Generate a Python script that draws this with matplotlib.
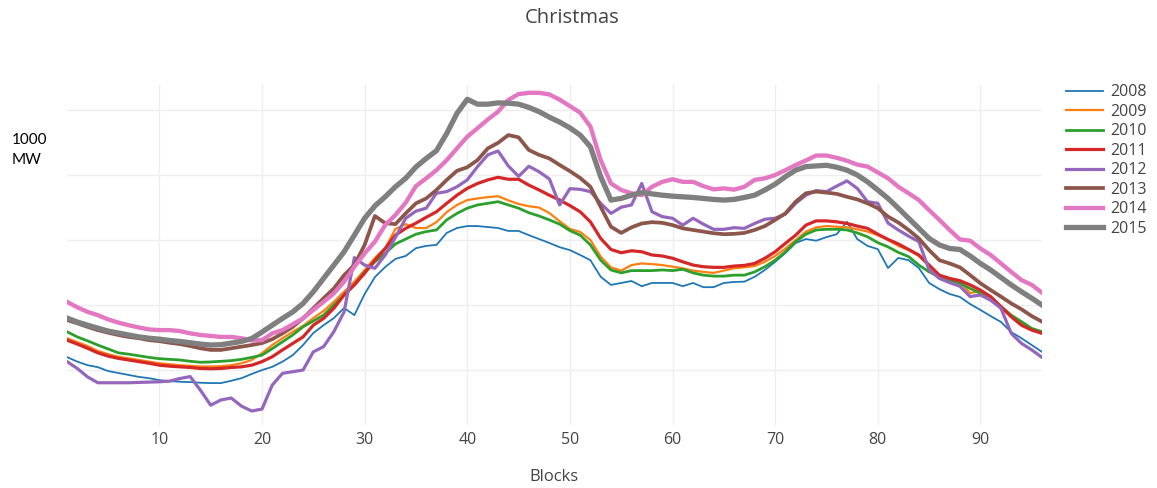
import numpy as np
import matplotlib
matplotlib.use("Agg")
import matplotlib.pyplot as plt

plt.rcParams['font.family'] = ['Open Sans', 'DejaVu Sans']

# load per 15-min block, Christmas day, in 1000 MW
blocks = np.arange(1, 97)
years = ['2008', '2009', '2010', '2011', '2012', '2013', '2014', '2015']

y2008 = [10.40, 10.26, 10.15, 10.09, 9.97, 9.91, 9.85, 9.79, 9.75, 9.69, 9.66, 9.64, 9.63, 9.61, 9.60, 9.60,
         9.67, 9.75, 9.88, 10.00, 10.10, 10.26, 10.46, 10.77, 11.14, 11.38, 11.60, 11.91, 11.69, 12.34, 12.86, 13.17,
         13.42, 13.51, 13.75, 13.82, 13.85, 14.22, 14.37, 14.43, 14.43, 14.40, 14.37, 14.28, 14.28, 14.15, 14.03, 13.91,
         13.78, 13.69, 13.54, 13.38, 12.87, 12.62, 12.68, 12.74, 12.58, 12.68, 12.68, 12.68, 12.58, 12.68, 12.55, 12.55,
         12.68, 12.71, 12.72, 12.87, 13.08, 13.33, 13.60, 13.91, 14.03, 13.98, 14.09, 14.18, 14.56, 14.03, 13.82, 13.72,
         13.14, 13.45, 13.38, 13.14, 12.68, 12.49, 12.34, 12.25, 12.03, 11.85, 11.66, 11.48, 11.17, 10.98, 10.77, 10.56]
y2009 = [10.98, 10.86, 10.74, 10.59, 10.49, 10.41, 10.36, 10.31, 10.26, 10.21, 10.18, 10.15, 10.13, 10.11, 10.11, 10.12,
         10.15, 10.21, 10.31, 10.52, 10.77, 10.98, 11.18, 11.36, 11.60, 11.82, 12.10, 12.41, 12.72, 13.08, 13.45, 13.75,
         14.34, 14.49, 14.37, 14.37, 14.55, 14.86, 15.08, 15.23, 15.28, 15.32, 15.35, 15.22, 15.11, 15.04, 15.00, 14.83,
         14.58, 14.34, 14.25, 14.00, 13.49, 13.16, 13.06, 13.23, 13.28, 13.26, 13.23, 13.18, 13.13, 13.06, 13.02, 12.99,
         13.06, 13.13, 13.16, 13.20, 13.33, 13.51, 13.74, 14.00, 14.26, 14.39, 14.43, 14.41, 14.39, 14.33, 14.26, 14.15,
         14.00, 13.82, 13.69, 13.51, 13.20, 12.91, 12.80, 12.71, 12.37, 12.43, 12.25, 11.97, 11.68, 11.42, 11.26, 11.18]
y2010 = [11.18, 11.02, 10.90, 10.77, 10.65, 10.53, 10.49, 10.44, 10.39, 10.35, 10.33, 10.31, 10.27, 10.24, 10.25, 10.27,
         10.29, 10.33, 10.39, 10.46, 10.66, 10.87, 11.08, 11.33, 11.51, 11.69, 12.00, 12.31, 12.62, 13.02, 13.33, 13.59,
         13.88, 14.03, 14.18, 14.26, 14.31, 14.62, 14.82, 14.98, 15.08, 15.13, 15.18, 15.08, 14.98, 14.84, 14.74, 14.62,
         14.49, 14.29, 14.15, 13.85, 13.38, 13.08, 12.99, 13.06, 13.06, 13.06, 13.08, 13.06, 13.10, 12.99, 12.92, 12.89,
         12.89, 12.92, 12.92, 13.02, 13.18, 13.38, 13.64, 13.95, 14.18, 14.31, 14.33, 14.33, 14.31, 14.22, 14.10, 13.92,
         13.79, 13.62, 13.49, 13.23, 13.02, 12.87, 12.77, 12.67, 12.51, 12.36, 12.15, 11.95, 11.69, 11.49, 11.28, 11.18]
y2011 = [10.92, 10.80, 10.67, 10.53, 10.43, 10.36, 10.31, 10.26, 10.21, 10.15, 10.12, 10.10, 10.08, 10.05, 10.04, 10.05,
         10.08, 10.10, 10.15, 10.26, 10.41, 10.62, 10.82, 11.02, 11.38, 11.59, 11.90, 12.31, 12.62, 12.98, 13.38, 13.74,
         14.15, 14.36, 14.52, 14.70, 14.87, 15.13, 15.38, 15.59, 15.74, 15.85, 15.93, 15.87, 15.87, 15.69, 15.54, 15.38,
         15.23, 15.06, 14.87, 14.56, 14.05, 13.71, 13.61, 13.67, 13.64, 13.54, 13.51, 13.44, 13.33, 13.23, 13.18, 13.16,
         13.16, 13.20, 13.22, 13.28, 13.44, 13.64, 13.90, 14.15, 14.46, 14.59, 14.59, 14.56, 14.51, 14.43, 14.36, 14.18,
         14.02, 13.88, 13.71, 13.54, 13.23, 12.92, 12.82, 12.75, 12.62, 12.46, 12.26, 11.95, 11.64, 11.38, 11.23, 11.13]
y2012 = [10.26, 10.05, 9.79, 9.61, 9.61, 9.61, 9.61, 9.62, 9.63, 9.64, 9.66, 9.74, 9.80, 9.38, 8.92, 9.08,
         9.14, 8.89, 8.74, 8.80, 9.54, 9.90, 9.95, 10.00, 10.56, 10.72, 11.18, 11.79, 13.46, 13.23, 13.13, 13.54,
         14.08, 14.67, 14.89, 14.98, 15.44, 15.49, 15.64, 15.85, 16.26, 16.62, 16.74, 16.28, 15.96, 16.27, 16.10, 15.88,
         15.08, 15.58, 15.56, 15.49, 15.13, 14.82, 15.01, 15.08, 15.74, 14.87, 14.72, 14.67, 14.46, 14.67, 14.49, 14.33,
         14.33, 14.38, 14.36, 14.51, 14.64, 14.67, 14.80, 15.13, 15.38, 15.52, 15.49, 15.66, 15.82, 15.59, 15.18, 15.13,
         14.52, 14.31, 14.12, 13.95, 13.08, 12.82, 12.69, 12.58, 12.26, 12.31, 12.15, 11.90, 11.13, 10.82, 10.62, 10.39]
y2013 = [11.54, 11.44, 11.33, 11.23, 11.15, 11.08, 11.02, 10.98, 10.92, 10.89, 10.84, 10.80, 10.74, 10.67, 10.62, 10.62,
         10.67, 10.72, 10.77, 10.83, 10.95, 11.13, 11.33, 11.59, 11.90, 12.21, 12.51, 12.92, 13.23, 13.85, 14.74, 14.52,
         14.49, 14.82, 15.13, 15.28, 15.54, 15.85, 16.13, 16.24, 16.46, 16.82, 16.99, 17.23, 17.16, 16.77, 16.62, 16.51,
         16.31, 16.12, 15.91, 15.64, 15.02, 14.41, 14.22, 14.39, 14.51, 14.55, 14.53, 14.46, 14.36, 14.31, 14.26, 14.21,
         14.18, 14.19, 14.22, 14.31, 14.43, 14.62, 14.82, 15.18, 15.44, 15.49, 15.46, 15.42, 15.33, 15.25, 15.13, 14.98,
         14.72, 14.54, 14.31, 14.05, 13.69, 13.38, 13.28, 13.16, 12.92, 12.67, 12.46, 12.26, 12.05, 11.87, 11.66, 11.49]
y2014 = [12.10, 11.93, 11.79, 11.69, 11.56, 11.46, 11.38, 11.31, 11.25, 11.23, 11.23, 11.20, 11.13, 11.08, 11.05, 11.02,
         11.02, 10.98, 10.91, 10.92, 11.13, 11.23, 11.41, 11.59, 11.85, 12.10, 12.36, 12.72, 13.18, 13.59, 13.95, 14.46,
         14.77, 15.15, 15.66, 15.90, 16.15, 16.46, 16.82, 17.18, 17.44, 17.71, 17.95, 18.31, 18.49, 18.53, 18.53, 18.48,
         18.32, 18.12, 17.92, 17.49, 16.46, 15.74, 15.54, 15.44, 15.38, 15.64, 15.79, 15.87, 15.79, 15.79, 15.66, 15.56,
         15.59, 15.55, 15.64, 15.85, 15.90, 16.00, 16.15, 16.31, 16.45, 16.60, 16.60, 16.53, 16.44, 16.32, 16.26, 16.08,
         15.90, 15.64, 15.44, 15.23, 14.92, 14.62, 14.31, 14.02, 13.98, 13.74, 13.54, 13.28, 13.02, 12.77, 12.62, 12.38]
y2015 = [11.60, 11.48, 11.38, 11.29, 11.20, 11.14, 11.08, 11.02, 10.98, 10.95, 10.91, 10.88, 10.84, 10.80, 10.77, 10.78,
         10.83, 10.88, 10.97, 11.17, 11.38, 11.59, 11.79, 12.05, 12.41, 12.82, 13.23, 13.64, 14.15, 14.67, 15.05, 15.33,
         15.64, 15.90, 16.25, 16.51, 16.75, 17.28, 17.90, 18.33, 18.18, 18.18, 18.22, 18.21, 18.18, 18.08, 17.95, 17.78,
         17.63, 17.45, 17.23, 16.87, 15.95, 15.23, 15.28, 15.38, 15.46, 15.42, 15.38, 15.35, 15.33, 15.31, 15.28, 15.25,
         15.23, 15.25, 15.31, 15.38, 15.54, 15.72, 15.95, 16.15, 16.26, 16.28, 16.30, 16.24, 16.15, 16.00, 15.79, 15.54,
         15.28, 14.98, 14.67, 14.36, 14.05, 13.85, 13.74, 13.71, 13.51, 13.28, 13.08, 12.85, 12.62, 12.41, 12.21, 12.00]

series = [y2008, y2009, y2010, y2011, y2012, y2013, y2014, y2015]
colors = ['#1f77b4', '#ff7f0e', '#2ca02c', '#d62728', '#9467bd', '#8c564b', '#e377c2', '#7f7f7f']
widths = [1.3, 1.6, 2.0, 2.3, 2.3, 2.7, 3.1, 3.8]

W, H = 1157, 488
fig = plt.figure(figsize=(W / 100, H / 100), dpi=100)
ax = fig.add_axes([67 / W, 1 - 425 / H, (1042 - 67) / W, (425 - 85) / H])

for yr, vals, c, lw in zip(years, series, colors, widths):
    ax.plot(blocks, vals, color=c, linewidth=lw, label=yr, solid_joinstyle='round')

ax.set_xlim(1, 96)
ax.set_ylim(8.31, 18.77)
ax.set_xticks(range(10, 100, 10))
ax.set_yticks([10, 12, 14, 16, 18])
ax.set_yticklabels([])
ax.tick_params(length=0, labelsize=11.5, labelcolor='#444444', pad=5)
ax.grid(True, color='#eeeeee', linewidth=1)
ax.set_axisbelow(True)
for s in ax.spines.values():
    s.set_visible(False)

fig.text(554 / W, 1 - 477 / H, 'Blocks', ha='center', va='center', fontsize=12, color='#444444')
fig.text(572 / W, 1 - 18 / H, 'Christmas', ha='center', va='center', fontsize=14.5, color='#444444')
fig.text(12 / W, 1 - 140 / H, '1000', ha='left', va='center', fontsize=11, family='Lato', color='black')
fig.text(12 / W, 1 - 160 / H, 'MW', ha='left', va='center', fontsize=11, family='Lato', color='black')

fig.legend(loc='upper left', bbox_to_anchor=(1060 / W, 1 - 78 / H), frameon=False,
           fontsize=11.5, labelcolor='#444444', handlelength=2.3, handletextpad=0.45,
           labelspacing=0.22, borderaxespad=0)

fig.savefig('out.png', dpi=100)
